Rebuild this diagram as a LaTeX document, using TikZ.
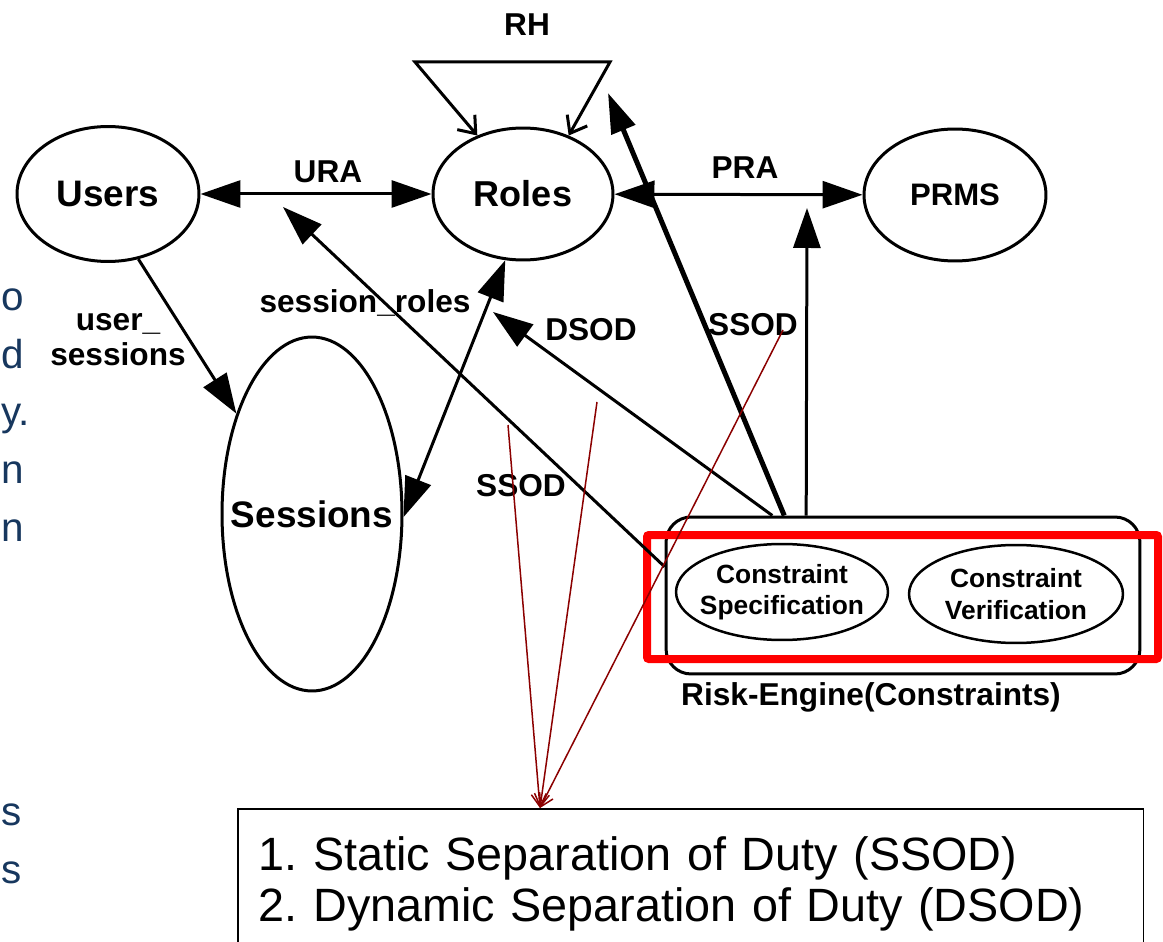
\documentclass[tikz,border=0pt]{standalone}
\usepackage{fontspec}
\setmainfont{Liberation Sans}
\usetikzlibrary{arrows.meta,shapes.geometric,calc}
\definecolor{slideblue}{RGB}{23,55,94}
\definecolor{noteline}{RGB}{139,0,0}
\newcommand\setfont{\bfseries\fontsize{21}{24}\selectfont}
\newcommand\lblfont{\bfseries\fontsize{18}{20}\selectfont}
\newcommand\subfont{\bfseries\fontsize{15}{18}\selectfont}
\newcommand\notefont{\fontsize{26.6}{29.5}\selectfont}
\newcommand\slidefont{\color{slideblue}\fontsize{23}{26}\selectfont}
\frenchspacing
\begin{document}
\begin{tikzpicture}[x=0.02cm,y=-0.02cm,
  set/.style={draw,ellipse,line width=0.06cm,inner xsep=-0.5cm,inner ysep=0pt,font=\setfont},
  sub/.style={draw,ellipse,line width=0.05cm,inner xsep=-0.3cm,inner ysep=0pt,align=center,font=\subfont},
  rel/.style={line width=0.06cm,-{Triangle[length=0.8cm,width=0.54cm]}},
  dbl/.style={line width=0.06cm,{Triangle[length=0.8cm,width=0.54cm]}-{Triangle[length=0.8cm,width=0.54cm]}},
  lbl/.style={font=\lblfont,inner sep=0pt},
  note/.style={noteline,line width=0.03cm,-{Straight Barb[length=0.25cm,width=0.3cm]}}]
  \useasboundingbox (0,0) rectangle (1163,942);
  % cut-off slide text on the left
  \foreach \y/\t in {311/o,369/d,425/y.,483/n,541/n,825/s,883/s}
    \node[anchor=base west,inner sep=0pt,font=\slidefont] (frag\y) at (1,\y) {\t};
  % sets
  \node[set,minimum width=3.64cm,minimum height=2.7cm] (users) at (108,194) {Users};
  \node[set,minimum width=3.6cm,minimum height=2.64cm,font=\bfseries\fontsize{20.5}{24}\selectfont] (roles) at (523,194) {Roles};
  \node[set,minimum width=3.64cm,minimum height=2.64cm,font=\bfseries\fontsize{17.7}{20}\selectfont] (prms) at (955,195) {PRMS};
  \node[set,minimum width=3.6cm,minimum height=7.08cm] (sessions) at (312,514) {Sessions};
  % risk engine
  \node[draw,rounded corners=0.5cm,line width=0.06cm,minimum width=9.48cm,minimum height=3.14cm] (engine) at (903,595.5) {};
  \node[sub,minimum width=4.24cm,minimum height=1.92cm] (spec) at (782,592) {Constraint\\Specification};
  \node[sub,minimum width=4.28cm,minimum height=1.96cm] (verif) at (1016,594) {Constraint\\Verification};
  \draw[red,line width=0.16cm,rounded corners=0.04cm] (647,535) rectangle (1158,659);
  \node[lbl] (enginelbl) at (871,697) {Risk-Engine(Constraints)};
  % assignments
  \draw[dbl] (users) -- (roles);
  \node[lbl] (ura) at (328,172) {URA};
  \draw[dbl] (roles) -- (prms);
  \node[lbl] (pra) at (745,168) {PRA};
  \draw[dbl] (roles.255) -- (sessions.358);
  \draw[rel] (users.295) -- (sessions.127);
  \node[lbl,align=center] (uslbl) at (118,340) {user\_\\sessions};
  % role hierarchy
  \coordinate (rhleft) at (415,62);
  \coordinate (rhright) at (610,62);
  \draw[line width=0.06cm,{Straight Barb[length=0.3cm,width=0.46cm]}-{Straight Barb[length=0.3cm,width=0.46cm]}]
    (roles.128) -- (rhleft) -- (rhright) -- (roles.52);
  \node[lbl] (rh) at (527,25) {RH};
  % constraints from the risk engine
  \coordinate (ssodtip) at (608,93);
  \coordinate (prmstip) at (807,208);
  \coordinate (dsodtip) at (493,312);
  \coordinate (srtip) at (283,207);
  \draw[line width=0.1cm,-{Triangle[length=0.8cm,width=0.5cm]}] ($(engine.north west)!0.251!(engine.north east)$) -- (ssodtip);
  \draw[rel] ($(engine.north west)!0.297!(engine.north east)$) -- (prmstip);
  \draw[rel] ($(engine.north west)!0.226!(engine.north east)$) -- (dsodtip);
  \draw[rel] ($(engine.north west)!0.32!(engine.south west)$) -- (srtip);
  \node[lbl] (srlbl) at (365,303) {session\_roles};
  \node[lbl] (dsodlbl) at (591,330) {DSOD};
  \node[lbl] (ssodlbl) at (753,325) {SSOD};
  \node[lbl] (ssodlbl2) at (521,486) {SSOD};
  % legend
  \node[draw,line width=0.03cm,anchor=north west,inner xsep=0.42cm,inner ysep=0.55cm,
    text width=17.28cm,align=left,font=\notefont] (legend) at (237,808)
    {1. Static Separation of Duty (SSOD)\\2. Dynamic Separation of Duty (DSOD)};
  % notes pointing at the legend
  \coordinate (legendtop) at ($(legend.north west)+(303,0)$);
  \coordinate (ssodnote) at (508,425);
  \coordinate (dsodnote) at (597,402);
  \coordinate (ssodnote2) at (783,330);
  \draw[note] (ssodnote) -- (legendtop);
  \draw[note] (dsodnote) -- (legendtop);
  \draw[note] (ssodnote2) -- (legendtop);
\end{tikzpicture}
\end{document}
